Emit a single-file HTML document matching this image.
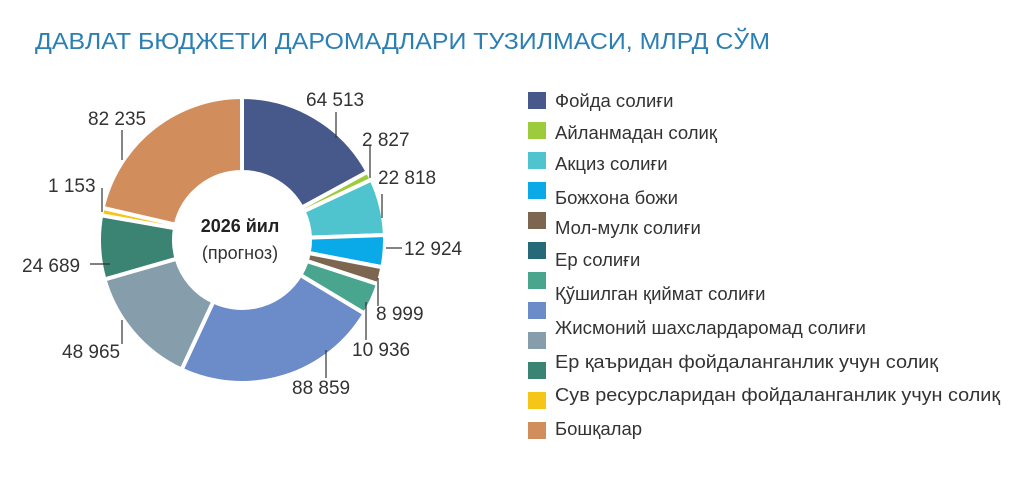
<!DOCTYPE html>
<html><head><meta charset="utf-8"><style>
body{margin:0;background:#fff;width:1024px;height:475px;overflow:hidden;font-family:"Liberation Sans","DejaVu Sans",sans-serif}
</style></head><body>
<svg width="1024" height="475" xmlns="http://www.w3.org/2000/svg" font-family="Liberation Sans, DejaVu Sans, sans-serif">
<text x="35" y="49" font-size="23" fill="#2c7fb2" textLength="735" lengthAdjust="spacingAndGlyphs">ДАВЛАТ БЮДЖЕТИ ДАРОМАДЛАРИ ТУЗИЛМАСИ, МЛРД СЎМ</text>
<g stroke="#fff" stroke-width="4">
<path fill="#46598a" d="M242 97A143 143 0 0 1 367.7 171.8L301.8 207.6A68 68 0 0 0 242 172Z"/>
<path fill="#9ccc3c" d="M367.7 171.8A143 143 0 0 1 371.6 179.6L303.6 211.3A68 68 0 0 0 301.8 207.6Z"/>
<path fill="#4fc4cf" d="M371.6 179.6A143 143 0 0 1 384.9 235L310 237.6A68 68 0 0 0 303.6 211.3Z"/>
<path fill="#0aa9e8" d="M384.9 235A143 143 0 0 1 382.4 267.3L308.7 253A68 68 0 0 0 310 237.6Z"/>
<path fill="#7d6650" d="M382.4 267.3A143 143 0 0 1 378 284.2L306.7 261A68 68 0 0 0 308.7 253Z"/>
<path fill="#4aa58f" d="M378 284.2A143 143 0 0 1 364.6 313.6L300.3 275A68 68 0 0 0 306.7 261Z"/>
<path fill="#6c8cc9" d="M364.6 313.6A143 143 0 0 1 181.6 369.6L213.3 301.6A68 68 0 0 0 300.3 275Z"/>
<path fill="#869eab" d="M181.6 369.6A143 143 0 0 1 104.5 279.4L176.6 258.7A68 68 0 0 0 213.3 301.6Z"/>
<path fill="#3b8372" d="M104.5 279.4A143 143 0 0 1 101.2 215.2L175 228.2A68 68 0 0 0 176.6 258.7Z"/>
<path fill="#f5c518" d="M101.2 215.2A143 143 0 0 1 102.7 207.8L175.7 224.7A68 68 0 0 0 175 228.2Z"/>
<path fill="#d18d5c" d="M102.7 207.8A143 143 0 0 1 242 97L242 172A68 68 0 0 0 175.7 224.7Z"/>
</g>
<text x="240" y="232" font-size="18" font-weight="bold" text-anchor="middle" fill="#222">2026 йил</text>
<text x="240" y="259" font-size="18" text-anchor="middle" fill="#333">(прогноз)</text>
<g stroke="#333" stroke-width="1.2" fill="none">
<path d="M336 112V138"/><path d="M370 145V178"/><path d="M382 194V218"/>
<path d="M386 248H402"/><path d="M378 278V306"/><path d="M366 302V340"/>
<path d="M326 350V378"/><path d="M122 130V160"/><path d="M102 188V212"/>
<path d="M90 264H110"/><path d="M122 320V344"/>
</g>
<g font-size="19" fill="#333">
<text x="306" y="106">64 513</text><text x="362" y="146">2 827</text>
<text x="378" y="184">22 818</text><text x="404" y="255">12 924</text>
<text x="376" y="320">8 999</text><text x="352" y="356">10 936</text>
<text x="292" y="394">88 859</text><text x="88" y="125">82 235</text>
<text x="48" y="192">1 153</text><text x="22" y="272">24 689</text>
<text x="62" y="358">48 965</text>
</g>
<g font-size="18.5" fill="#333">
<rect x="528" y="92" width="18" height="17" fill="#46598a"/><text x="555" y="107">Фойда солиғи</text>
<rect x="528" y="122" width="18" height="17" fill="#9ccc3c"/><text x="555" y="139">Айланмадан солиқ</text>
<rect x="528" y="152" width="18" height="17" fill="#4fc4cf"/><text x="555" y="170">Акциз солиғи</text>
<rect x="528" y="182" width="18" height="17" fill="#0aa9e8"/><text x="555" y="204">Божхона божи</text>
<rect x="528" y="212" width="18" height="17" fill="#7d6650"/><text x="555" y="234">Мол-мулк солиғи</text>
<rect x="528" y="242" width="18" height="17" fill="#256a78"/><text x="555" y="266">Ер солиғи</text>
<rect x="528" y="272" width="18" height="17" fill="#4aa58f"/><text x="555" y="300">Қўшилган қиймат солиғи</text>
<rect x="528" y="302" width="18" height="17" fill="#6c8cc9"/><text x="555" y="334" textLength="311" lengthAdjust="spacingAndGlyphs">Жисмоний шахслардаромад солиғи</text>
<rect x="528" y="332" width="18" height="17" fill="#869eab"/><text x="555" y="368" textLength="383" lengthAdjust="spacingAndGlyphs">Ер қаъридан фойдаланганлик учун солиқ</text>
<rect x="528" y="362" width="18" height="17" fill="#3b8372"/><text x="555" y="401" textLength="445" lengthAdjust="spacingAndGlyphs">Сув ресурсларидан фойдаланганлик учун солиқ</text>
<rect x="528" y="392" width="18" height="17" fill="#f5c518"/>
<rect x="528" y="422" width="18" height="17" fill="#d18d5c"/><text x="555" y="435">Бошқалар</text>
</g>
</svg>
</body></html>
